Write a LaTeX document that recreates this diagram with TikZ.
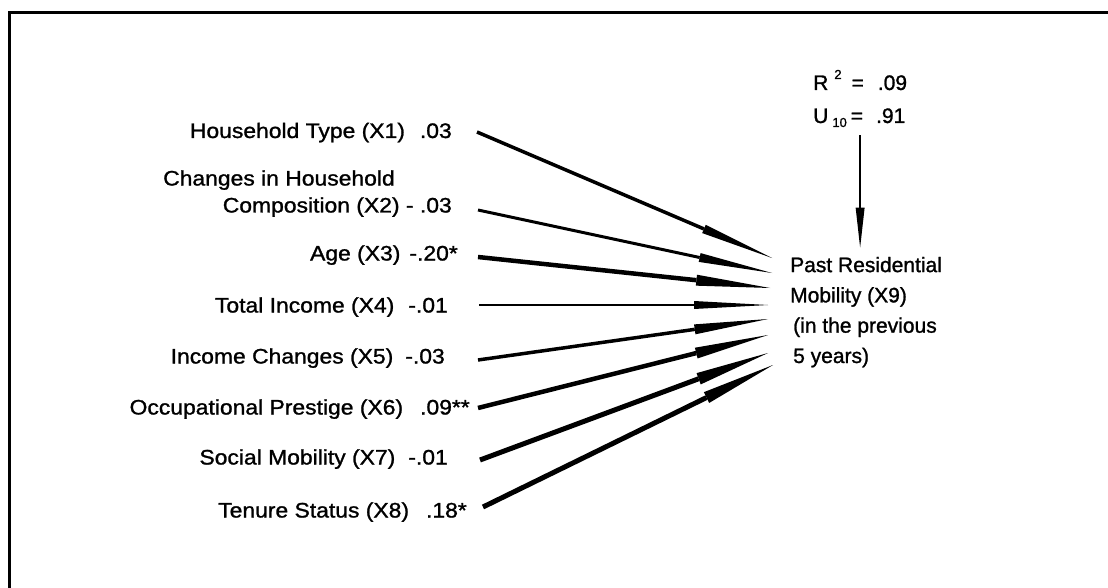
\documentclass[tikz,border=0pt]{standalone}
\usepackage{fontspec}
\setmainfont{Liberation Sans}[FakeBold=1.2]
\newfontfamily\lf{Liberation Sans}[FakeStretch=1.09,FakeBold=1.2]
\newfontfamily\rf{Liberation Sans}[FakeBold=1.2]
\usetikzlibrary{arrows.meta}
\begin{document}
\begin{tikzpicture}[x=1pt,y=-1pt,
  lab/.style={font=\lf\fontsize{21}{27}\selectfont, inner sep=0pt, anchor=base east},
  arr/.style={-{Triangle[length=74pt 0 0,width=#1 0 0,line width=0pt]}},
  framel/.style={line width=3pt}]
\useasboundingbox (0,0) rectangle (1108,588);
\draw[framel] (9,588) -- (9,13) -- (1108,13);

% predictor labels
\node[lab] (x1) at (452,138) {Household Type (X1)\hspace{15pt}.03};
\node[lab, align=right] (x2) at (452,212.5) {Changes in Household\hspace*{57pt}\\Composition (X2) - .03};
\node[lab] (x3) at (458,260.5) {Age (X3)\hspace{9pt}-.20*};
\node[lab] (x4) at (448,312.5) {Total Income (X4)\hspace{14pt}-.01};
\node[lab] (x5) at (445,363.5) {Income Changes (X5)\hspace{12pt}-.03};
\node[lab] (x6) at (470,414.5) {Occupational Prestige (X6)\hspace{17pt}.09**};
\node[lab] (x7) at (448,464.5) {Social Mobility (X7)\hspace{13pt}-.01};
\node[lab] (x8) at (467,517.5) {Tenure Status (X8)\hspace{17pt}.18*};

% outcome
\node[anchor=base west, align=left, inner sep=0pt, font=\rf\fontsize{21}{30.3}\selectfont] (x9) at (790,363)
  {Past Residential\\Mobility (X9)\\\hspace*{3pt}(in the previous\\\hspace*{3pt}5 years)};

% statistics
\node[anchor=base west, align=left, inner sep=0pt, font=\rf\fontsize{21}{33}\selectfont] (r2) at (813,123)
  {R\hspace{6pt}\raisebox{11pt}{\fontsize{13}{13}\selectfont 2}\hspace{10pt}=\hspace{14pt}.09\\
   U\hspace{4pt}\raisebox{-4pt}{\fontsize{13}{13}\selectfont 10}\hspace{4pt}=\hspace{13pt}.91};

% paths
\draw[arr=9pt, line width=3.5pt]  ([shift={(25,-6)}]x1.base east) -- ([shift={(-18,-105)}]x9.base west);
\draw[arr=9pt, line width=3pt]    ([shift={(26,-2.5)}]x2.base east) -- ([shift={(-18,-90)}]x9.base west);
\draw[arr=11pt, line width=4.5pt] ([shift={(20,-3.5)}]x3.base east) -- ([shift={(-20,-75)}]x9.base west);
\draw[arr=8pt, line width=2pt]    ([shift={(31,-7.5)}]x4.base east) -- ([shift={(-22,-58)}]x9.base west);
\draw[arr=10pt, line width=3.5pt] ([shift={(33,-3.5)}]x5.base east) -- ([shift={(-22,-44)}]x9.base west);
\draw[arr=11pt, line width=4.5pt] ([shift={(8,-6.5)}]x6.base east) -- ([shift={(-22,-28)}]x9.base west);
\draw[arr=12pt, line width=5pt]   ([shift={(32,-4.5)}]x7.base east) -- ([shift={(-22,-10)}]x9.base west);
\draw[arr=12pt, line width=5pt]   ([shift={(16,-10.5)}]x8.base east) -- ([shift={(-17,2)}]x9.base west);

\draw[line width=2pt, -{Triangle[length=40pt 0 0,width=9pt 0 0,line width=0pt]}]
  ([yshift=-8pt]r2.south) -- ([yshift=9pt]r2.south |- x9.north);
\end{tikzpicture}
\end{document}
